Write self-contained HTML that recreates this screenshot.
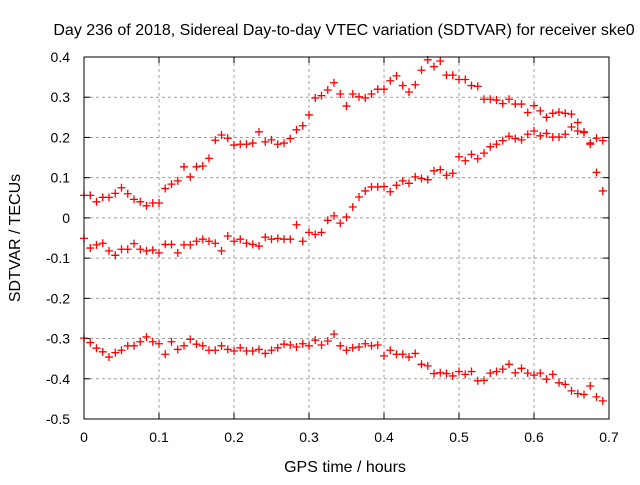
<!DOCTYPE html>
<html><head><meta charset="utf-8"><style>
body{margin:0;background:#fff;}
svg text{font-family:"Liberation Sans",sans-serif;font-size:14px;fill:#000;}
svg text.big{font-size:16px;}
</style></head><body>
<svg id="chart" width="640" height="480" viewBox="0 0 640 480" xmlns="http://www.w3.org/2000/svg">
<rect width="640" height="480" fill="#fff"/>
<text class="big" x="344" y="35" text-anchor="middle">Day 236 of 2018, Sidereal Day-to-day VTEC variation (SDTVAR) for receiver ske0</text>
<text class="big" x="345" y="472" text-anchor="middle">GPS time / hours</text>
<text class="big" transform="translate(20,238) rotate(-90)" text-anchor="middle">SDTVAR / TECUs</text>
<g id="grid"></g>
<g id="ticks"></g>
<g id="marks"></g>
<rect x="84" y="57" width="525" height="362" fill="none" stroke="#000" stroke-width="1"/>
</svg>
<script>
const xTicks=[0,0.1,0.2,0.3,0.4,0.5,0.6,0.7];
const xTickLabels=["0","0.1","0.2","0.3","0.4","0.5","0.6","0.7"];
const yTicks=[-0.5,-0.4,-0.3,-0.2,-0.1,0,0.1,0.2,0.3,0.4];
const yTickLabels=["-0.5","-0.4","-0.3","-0.2","-0.1","0","0.1","0.2","0.3","0.4"];
const seriesTop=[.056,.056,.040,.051,.051,.061,.075,.060,.046,.040,.030,.037,.037,.073,.084,.092,.127,.102,.127,.129,.148,.193,.206,.198,.181,.183,.183,.186,.214,.189,.194,.183,.186,.197,.219,.229,.256,.298,.304,.318,.336,.308,.278,
.308,.301,.298,.308,.320,.320,.341,.353,.329,.313,.331,.367,.393,.376,.390,.355,.355,.344,.344,.329,.327,.295,.295,.293,.284,.295,.283,.283,.262,.279,.266,.250,.260,.263,.260,.258,.237,.214,.186,.198,.192];
const seriesMid=[-.051,-.075,-.067,-.063,-.082,-.093,-.078,-.078,-.064,-.078,-.082,-.080,-.087,-.066,-.066,-.087,-.067,-.067,-.058,-.053,-.058,-.063,-.082,-.045,-.058,-.053,-.063,-.066,-.070,-.048,-.053,-.051,-.053,-.053,-.017,-.058,-.036,-.041,-.036,-.006,.005,-.013,.002,
.027,.052,.067,.077,.077,.078,.065,.081,.092,.086,.102,.098,.095,.117,.120,.106,.111,.152,.142,.158,.147,.161,.177,.183,.192,.203,.197,.194,.208,.216,.204,.210,.201,.201,.208,.226,.216,.212,.183,.113,.067];
const seriesBot=[-.299,-.310,-.324,-.333,-.346,-.335,-.329,-.318,-.318,-.308,-.296,-.308,-.313,-.339,-.308,-.327,-.318,-.302,-.314,-.318,-.329,-.329,-.318,-.327,-.331,-.323,-.331,-.331,-.327,-.337,-.329,-.323,-.314,-.316,-.321,-.313,-.318,-.304,-.316,-.306,-.289,-.318,-.329,-.323,-.321,-.313,-.318,-.316,-.343,-.329,-.339,-.339,-.346,-.337,-.364,-.368,-.387,-.385,-.387,-.393,-.382,-.389,-.382,-.405,-.404,-.386,-.382,-.376,-.364,-.385,-.374,-.386,-.391,-.386,-.401,-.389,-.410,-.414,-.430,-.437,-.439,-.418,-.445,-.455];
const times=seriesBot.map((_,i)=>i/120);
const X0=84,X1=609,Y0=419,Y1=57;
const xs=v=>X0+(v-0)/(0.7)*(X1-X0);
const ys=v=>Y0-(v+0.5)/0.9*(Y0-Y1);
const NS="http://www.w3.org/2000/svg";
const grid=document.getElementById('grid'),ticks=document.getElementById('ticks'),marks=document.getElementById('marks');
function mk(tag,attrs,parent){const e=document.createElementNS(NS,tag);for(const k in attrs)e.setAttribute(k,attrs[k]);parent.appendChild(e);return e;}
xTicks.forEach((t,i)=>{const x=xs(t);
 if(i>0&&i<xTicks.length-1){const g=mk('line',{x1:x,x2:x,y1:Y1,y2:Y0,stroke:'#a0a0a0','stroke-dasharray':'3,3'},grid);}
 const a=mk('line',{x1:x,x2:x,y1:Y0,y2:Y0-6,stroke:'#000'},ticks);
 const b=mk('line',{x1:x,x2:x,y1:Y1,y2:Y1+6,stroke:'#000'},ticks);
 const tx=mk('text',{x:x,y:442,'text-anchor':'middle'},ticks);tx.textContent=xTickLabels[i];});
yTicks.forEach((t,i)=>{const y=ys(t);
 if(i>0&&i<yTicks.length-1){const g=mk('line',{x1:X0,x2:X1,y1:y,y2:y,stroke:'#a0a0a0','stroke-dasharray':'3,3'},grid);}
 const a=mk('line',{x1:X0,x2:X0+6,y1:y,y2:y,stroke:'#000'},ticks);
 const b=mk('line',{x1:X1,x2:X1-6,y1:y,y2:y,stroke:'#000'},ticks);
 const tx=mk('text',{x:70,y:y+5,'text-anchor':'end'},ticks);tx.textContent=yTickLabels[i];});
function drawSeries(vals,name){vals.forEach((v,i)=>{const x=xs(times[i]),y=ys(v);
 const p=mk('path',{d:`M${x-4},${y}H${x+4}M${x},${y-4}V${y+4}`,stroke:'#ff0000','stroke-width':1.3,fill:'none'},marks);
 
 });}
drawSeries(seriesTop,'top-series');drawSeries(seriesMid,'middle-series');drawSeries(seriesBot,'bottom-series');
</script>
</body></html>
